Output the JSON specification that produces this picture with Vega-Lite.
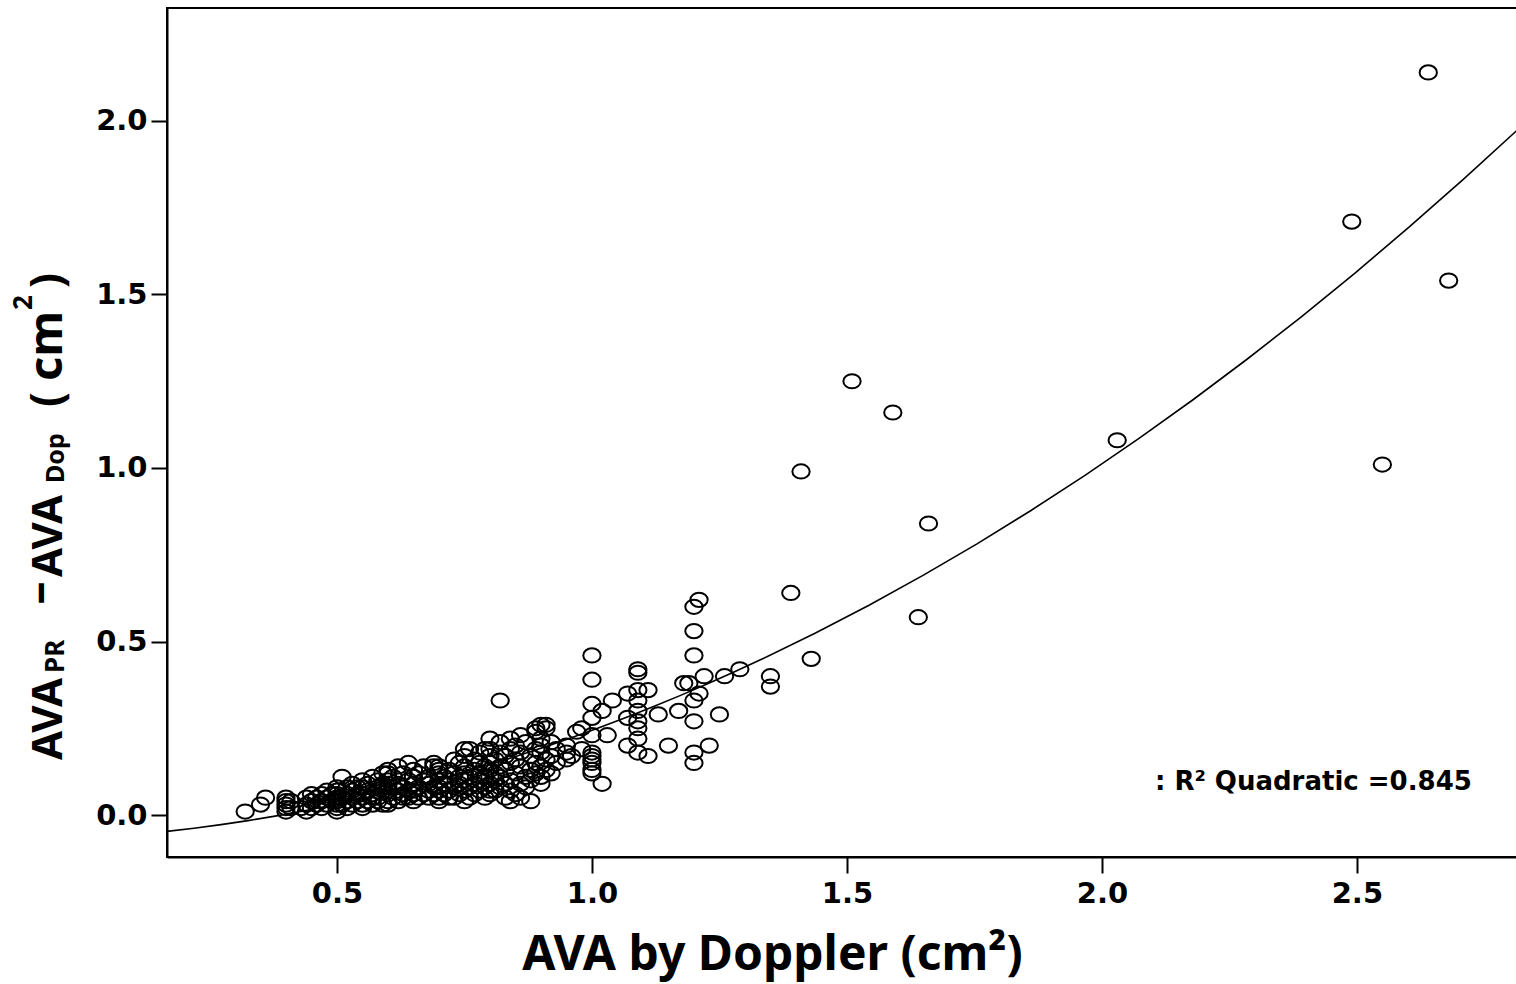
{
  "$schema": "https://vega.github.io/schema/vega-lite/v6.json",
  "width": 1350,
  "height": 849,
  "autosize": {"type": "none"},
  "padding": {"left": 167, "top": 8, "right": 0, "bottom": 127},
  "background": "white",
  "config": {
    "view": {"stroke": "black", "strokeWidth": 2},
    "axis": {
      "grid": false,
      "domainColor": "black",
      "domainWidth": 2,
      "tickColor": "black",
      "tickWidth": 2,
      "tickSize": 16,
      "labelFont": "DejaVu Sans",
      "labelFontWeight": "bold",
      "labelFontSize": 29,
      "labelColor": "black"
    }
  },
  "datasets": {
    "pts": [
      {"x":0.32,"y":0.01},{"x":0.35,"y":0.03},{"x":0.36,"y":0.05},
      {"x":0.40,"y":0.01},{"x":0.40,"y":0.02},{"x":0.40,"y":0.03},{"x":0.40,"y":0.04},{"x":0.40,"y":0.05},
      {"x":0.41,"y":0.02},{"x":0.41,"y":0.04},{"x":0.43,"y":0.02},
      {"x":0.44,"y":0.01},{"x":0.44,"y":0.03},{"x":0.44,"y":0.05},
      {"x":0.45,"y":0.02},{"x":0.45,"y":0.04},{"x":0.45,"y":0.06},
      {"x":0.46,"y":0.03},{"x":0.46,"y":0.05},
      {"x":0.47,"y":0.02},{"x":0.47,"y":0.04},{"x":0.47,"y":0.06},
      {"x":0.48,"y":0.03},{"x":0.48,"y":0.05},{"x":0.48,"y":0.07},
      {"x":0.49,"y":0.04},{"x":0.49,"y":0.06},
      {"x":0.50,"y":0.01},{"x":0.50,"y":0.02},{"x":0.50,"y":0.03},{"x":0.50,"y":0.04},{"x":0.50,"y":0.05},{"x":0.50,"y":0.06},{"x":0.50,"y":0.07},{"x":0.50,"y":0.08},
      {"x":0.51,"y":0.03},{"x":0.51,"y":0.05},{"x":0.51,"y":0.11},
      {"x":0.52,"y":0.02},{"x":0.52,"y":0.04},{"x":0.52,"y":0.06},{"x":0.52,"y":0.08},
      {"x":0.53,"y":0.03},{"x":0.53,"y":0.05},{"x":0.53,"y":0.07},{"x":0.53,"y":0.09},
      {"x":0.54,"y":0.04},{"x":0.54,"y":0.06},{"x":0.54,"y":0.08},
      {"x":0.55,"y":0.02},{"x":0.55,"y":0.03},{"x":0.55,"y":0.05},{"x":0.55,"y":0.06},{"x":0.55,"y":0.08},{"x":0.55,"y":0.10},
      {"x":0.56,"y":0.04},{"x":0.56,"y":0.07},{"x":0.56,"y":0.09},
      {"x":0.57,"y":0.03},{"x":0.57,"y":0.05},{"x":0.57,"y":0.06},{"x":0.57,"y":0.11},
      {"x":0.58,"y":0.04},{"x":0.58,"y":0.05},{"x":0.58,"y":0.08},{"x":0.58,"y":0.10},
      {"x":0.59,"y":0.03},{"x":0.59,"y":0.07},{"x":0.59,"y":0.09},{"x":0.59,"y":0.12},
      {"x":0.60,"y":0.03},{"x":0.60,"y":0.04},{"x":0.60,"y":0.06},{"x":0.60,"y":0.07},{"x":0.60,"y":0.08},{"x":0.60,"y":0.09},{"x":0.60,"y":0.10},{"x":0.60,"y":0.12},{"x":0.60,"y":0.13},
      {"x":0.61,"y":0.05},{"x":0.61,"y":0.08},{"x":0.61,"y":0.11},
      {"x":0.62,"y":0.04},{"x":0.62,"y":0.07},{"x":0.62,"y":0.09},{"x":0.62,"y":0.14},
      {"x":0.63,"y":0.05},{"x":0.63,"y":0.06},{"x":0.63,"y":0.08},{"x":0.63,"y":0.12},
      {"x":0.64,"y":0.05},{"x":0.64,"y":0.07},{"x":0.64,"y":0.10},{"x":0.64,"y":0.15},
      {"x":0.65,"y":0.04},{"x":0.65,"y":0.06},{"x":0.65,"y":0.07},{"x":0.65,"y":0.09},{"x":0.65,"y":0.11},{"x":0.65,"y":0.13},
      {"x":0.66,"y":0.05},{"x":0.66,"y":0.08},{"x":0.66,"y":0.12},
      {"x":0.67,"y":0.06},{"x":0.67,"y":0.10},{"x":0.67,"y":0.14},
      {"x":0.68,"y":0.05},{"x":0.68,"y":0.07},{"x":0.68,"y":0.09},{"x":0.68,"y":0.11},
      {"x":0.69,"y":0.06},{"x":0.69,"y":0.08},{"x":0.69,"y":0.14},{"x":0.69,"y":0.15},
      {"x":0.70,"y":0.04},{"x":0.70,"y":0.05},{"x":0.70,"y":0.07},{"x":0.70,"y":0.08},{"x":0.70,"y":0.10},{"x":0.70,"y":0.12},{"x":0.70,"y":0.13},{"x":0.70,"y":0.14},
      {"x":0.71,"y":0.06},{"x":0.71,"y":0.09},{"x":0.71,"y":0.11},
      {"x":0.72,"y":0.05},{"x":0.72,"y":0.07},{"x":0.72,"y":0.10},{"x":0.72,"y":0.13},
      {"x":0.73,"y":0.05},{"x":0.73,"y":0.08},{"x":0.73,"y":0.12},{"x":0.73,"y":0.16},
      {"x":0.74,"y":0.06},{"x":0.74,"y":0.09},{"x":0.74,"y":0.11},{"x":0.74,"y":0.15},
      {"x":0.75,"y":0.04},{"x":0.75,"y":0.07},{"x":0.75,"y":0.10},{"x":0.75,"y":0.12},{"x":0.75,"y":0.14},{"x":0.75,"y":0.17},{"x":0.75,"y":0.19},
      {"x":0.76,"y":0.05},{"x":0.76,"y":0.08},{"x":0.76,"y":0.11},{"x":0.76,"y":0.19},
      {"x":0.77,"y":0.06},{"x":0.77,"y":0.09},{"x":0.77,"y":0.13},{"x":0.77,"y":0.16},
      {"x":0.78,"y":0.07},{"x":0.78,"y":0.10},{"x":0.78,"y":0.12},{"x":0.78,"y":0.15},{"x":0.78,"y":0.18},
      {"x":0.79,"y":0.05},{"x":0.79,"y":0.08},{"x":0.79,"y":0.11},{"x":0.79,"y":0.14},{"x":0.79,"y":0.19},
      {"x":0.80,"y":0.06},{"x":0.80,"y":0.07},{"x":0.80,"y":0.09},{"x":0.80,"y":0.11},{"x":0.80,"y":0.13},{"x":0.80,"y":0.15},{"x":0.80,"y":0.17},{"x":0.80,"y":0.19},{"x":0.80,"y":0.22},
      {"x":0.81,"y":0.07},{"x":0.81,"y":0.10},{"x":0.81,"y":0.12},{"x":0.81,"y":0.16},
      {"x":0.82,"y":0.08},{"x":0.82,"y":0.11},{"x":0.82,"y":0.14},{"x":0.82,"y":0.18},{"x":0.82,"y":0.21},{"x":0.82,"y":0.33},
      {"x":0.83,"y":0.05},{"x":0.83,"y":0.09},{"x":0.83,"y":0.13},{"x":0.83,"y":0.17},
      {"x":0.84,"y":0.04},{"x":0.84,"y":0.07},{"x":0.84,"y":0.10},{"x":0.84,"y":0.15},{"x":0.84,"y":0.19},{"x":0.84,"y":0.22},
      {"x":0.85,"y":0.06},{"x":0.85,"y":0.12},{"x":0.85,"y":0.16},{"x":0.85,"y":0.20},
      {"x":0.86,"y":0.05},{"x":0.86,"y":0.09},{"x":0.86,"y":0.14},{"x":0.86,"y":0.18},{"x":0.86,"y":0.23},
      {"x":0.87,"y":0.08},{"x":0.87,"y":0.11},{"x":0.87,"y":0.21},
      {"x":0.88,"y":0.04},{"x":0.88,"y":0.10},{"x":0.88,"y":0.13},{"x":0.88,"y":0.17},
      {"x":0.89,"y":0.12},{"x":0.89,"y":0.15},{"x":0.89,"y":0.19},{"x":0.89,"y":0.24},{"x":0.89,"y":0.25},
      {"x":0.90,"y":0.09},{"x":0.90,"y":0.11},{"x":0.90,"y":0.14},{"x":0.90,"y":0.18},{"x":0.90,"y":0.20},{"x":0.90,"y":0.22},{"x":0.90,"y":0.26},
      {"x":0.91,"y":0.13},{"x":0.91,"y":0.16},{"x":0.91,"y":0.25},{"x":0.91,"y":0.26},
      {"x":0.92,"y":0.12},{"x":0.92,"y":0.17},{"x":0.92,"y":0.21},
      {"x":0.93,"y":0.15},{"x":0.93,"y":0.19},
      {"x":0.95,"y":0.16},{"x":0.95,"y":0.18},{"x":0.95,"y":0.20},
      {"x":0.96,"y":0.17},{"x":0.97,"y":0.24},{"x":0.98,"y":0.19},{"x":0.98,"y":0.25},
      {"x":1.00,"y":0.12},{"x":1.00,"y":0.13},{"x":1.00,"y":0.15},{"x":1.00,"y":0.16},{"x":1.00,"y":0.17},{"x":1.00,"y":0.18},{"x":1.00,"y":0.23},{"x":1.00,"y":0.28},{"x":1.00,"y":0.32},{"x":1.00,"y":0.39},{"x":1.00,"y":0.46},
      {"x":1.02,"y":0.30},{"x":1.02,"y":0.09},{"x":1.03,"y":0.23},{"x":1.04,"y":0.33},
      {"x":1.07,"y":0.20},{"x":1.07,"y":0.28},{"x":1.07,"y":0.35},
      {"x":1.09,"y":0.18},{"x":1.09,"y":0.22},{"x":1.09,"y":0.25},{"x":1.09,"y":0.27},{"x":1.09,"y":0.30},{"x":1.09,"y":0.33},{"x":1.09,"y":0.36},{"x":1.09,"y":0.41},{"x":1.09,"y":0.42},
      {"x":1.11,"y":0.17},{"x":1.11,"y":0.36},{"x":1.13,"y":0.29},{"x":1.15,"y":0.20},{"x":1.17,"y":0.30},
      {"x":1.18,"y":0.38},{"x":1.19,"y":0.38},
      {"x":1.20,"y":0.15},{"x":1.20,"y":0.18},{"x":1.20,"y":0.27},{"x":1.20,"y":0.33},{"x":1.20,"y":0.46},{"x":1.20,"y":0.53},{"x":1.20,"y":0.60},
      {"x":1.21,"y":0.62},{"x":1.21,"y":0.35},{"x":1.22,"y":0.40},{"x":1.23,"y":0.20},{"x":1.25,"y":0.29},{"x":1.26,"y":0.40},{"x":1.29,"y":0.42},
      {"x":1.35,"y":0.37},{"x":1.35,"y":0.40},
      {"x":1.39,"y":0.64},{"x":1.41,"y":0.99},{"x":1.43,"y":0.45},
      {"x":1.51,"y":1.25},{"x":1.59,"y":1.16},{"x":1.64,"y":0.57},{"x":1.66,"y":0.84},
      {"x":2.03,"y":1.08},{"x":2.49,"y":1.71},{"x":2.55,"y":1.01},{"x":2.64,"y":2.14},{"x":2.68,"y":1.54}
    ]
  },
  "layer": [
    {
      "data": {"name": "pts"},
      "mark": {"type": "point", "shape": "M -1 0 A 1 0.82 0 1 0 1 0 A 1 0.82 0 1 0 -1 0 Z", "size": 300, "filled": false, "stroke": "black", "strokeWidth": 2, "opacity": 1},
      "encoding": {
        "x": {
          "field": "x", "type": "quantitative",
          "scale": {"domain": [0.1667, 2.814], "nice": false, "zero": false},
          "axis": {
            "values": [0.5, 1.0, 1.5, 2.0, 2.5], "format": ".1f", "labelPadding": 6,
            "title": "AVA by Doppler (cm²)",
            "titleFont": "Noto Sans", "titleFontWeight": "bold", "titleFontSize": 48, "titleColor": "black",
            "titleX": 605, "titleY": 112, "titleBaseline": "alphabetic", "titleAnchor": "middle", "titleAlign": "center"
          }
        },
        "y": {
          "field": "y", "type": "quantitative",
          "scale": {"domain": [-0.121, 2.3256], "nice": false, "zero": false},
          "axis": {"values": [0, 0.5, 1.0, 1.5, 2.0], "format": ".1f", "labelPadding": 4, "title": null}
        }
      }
    },
    {
      "data": {"name": "pts"},
      "transform": [{"regression": "y", "on": "x", "method": "poly", "order": 2, "extent": [0.1667, 2.814]}],
      "mark": {"type": "line", "color": "black", "strokeWidth": 1.6},
      "encoding": {
        "x": {"field": "x", "type": "quantitative"},
        "y": {"field": "y", "type": "quantitative"}
      }
    },
    {
      "data": {"values": [{"t": ": R² Quadratic =0.845"}]},
      "mark": {"type": "text", "align": "left", "baseline": "alphabetic", "font": "DejaVu Sans", "fontWeight": "bold", "fontSize": 26, "color": "black"},
      "encoding": {"x": {"datum": 2.104, "type": "quantitative"}, "y": {"datum": 0.072, "type": "quantitative"}, "text": {"field": "t"}}
    },
    {
      "data": {"values": [{"t": "AVA"}]},
      "mark": {"type": "text", "angle": 270, "align": "left", "baseline": "alphabetic", "font": "Noto Sans", "fontWeight": "bold", "fontSize": 42, "color": "black"},
      "encoding": {"x": {"datum": -0.0392, "type": "quantitative"}, "y": {"datum": 0.1585, "type": "quantitative"}, "text": {"field": "t"}}
    },
    {
      "data": {"values": [{"t": "PR"}]},
      "mark": {"type": "text", "angle": 270, "align": "left", "baseline": "alphabetic", "font": "Noto Sans", "fontWeight": "bold", "fontSize": 26, "color": "black"},
      "encoding": {"x": {"datum": -0.0353, "type": "quantitative"}, "y": {"datum": 0.4092, "type": "quantitative"}, "text": {"field": "t"}}
    },
    {
      "data": {"values": [{"t": "–"}]},
      "mark": {"type": "text", "angle": 270, "align": "center", "baseline": "alphabetic", "font": "Noto Sans", "fontWeight": "bold", "fontSize": 46, "color": "black"},
      "encoding": {"x": {"datum": -0.055, "type": "quantitative"}, "y": {"datum": 0.6398, "type": "quantitative"}, "text": {"field": "t"}}
    },
    {
      "data": {"values": [{"t": "AVA"}]},
      "mark": {"type": "text", "angle": 270, "align": "left", "baseline": "alphabetic", "font": "Noto Sans", "fontWeight": "bold", "fontSize": 42, "color": "black"},
      "encoding": {"x": {"datum": -0.0392, "type": "quantitative"}, "y": {"datum": 0.6859, "type": "quantitative"}, "text": {"field": "t"}}
    },
    {
      "data": {"values": [{"t": "Dop"}]},
      "mark": {"type": "text", "angle": 270, "align": "left", "baseline": "alphabetic", "font": "Noto Sans", "fontWeight": "bold", "fontSize": 25, "color": "black"},
      "encoding": {"x": {"datum": -0.0353, "type": "quantitative"}, "y": {"datum": 0.9568, "type": "quantitative"}, "text": {"field": "t"}}
    },
    {
      "data": {"values": [{"t": "("}]},
      "mark": {"type": "text", "angle": 270, "align": "left", "baseline": "alphabetic", "font": "Noto Sans", "fontWeight": "bold", "fontSize": 44, "color": "black"},
      "encoding": {"x": {"datum": -0.0392, "type": "quantitative"}, "y": {"datum": 1.1758, "type": "quantitative"}, "text": {"field": "t"}}
    },
    {
      "data": {"values": [{"t": "cm"}]},
      "mark": {"type": "text", "angle": 270, "align": "left", "baseline": "alphabetic", "font": "Noto Sans", "fontWeight": "bold", "fontSize": 47, "color": "black"},
      "encoding": {"x": {"datum": -0.0392, "type": "quantitative"}, "y": {"datum": 1.2507, "type": "quantitative"}, "text": {"field": "t"}}
    },
    {
      "data": {"values": [{"t": "2"}]},
      "mark": {"type": "text", "angle": 270, "align": "left", "baseline": "alphabetic", "font": "Noto Sans", "fontWeight": "bold", "fontSize": 26, "color": "black"},
      "encoding": {"x": {"datum": -0.098, "type": "quantitative"}, "y": {"datum": 1.4553, "type": "quantitative"}, "text": {"field": "t"}}
    },
    {
      "data": {"values": [{"t": ")"}]},
      "mark": {"type": "text", "angle": 270, "align": "left", "baseline": "alphabetic", "font": "Noto Sans", "fontWeight": "bold", "fontSize": 44, "color": "black"},
      "encoding": {"x": {"datum": -0.0392, "type": "quantitative"}, "y": {"datum": 1.5187, "type": "quantitative"}, "text": {"field": "t"}}
    }
  ]
}
